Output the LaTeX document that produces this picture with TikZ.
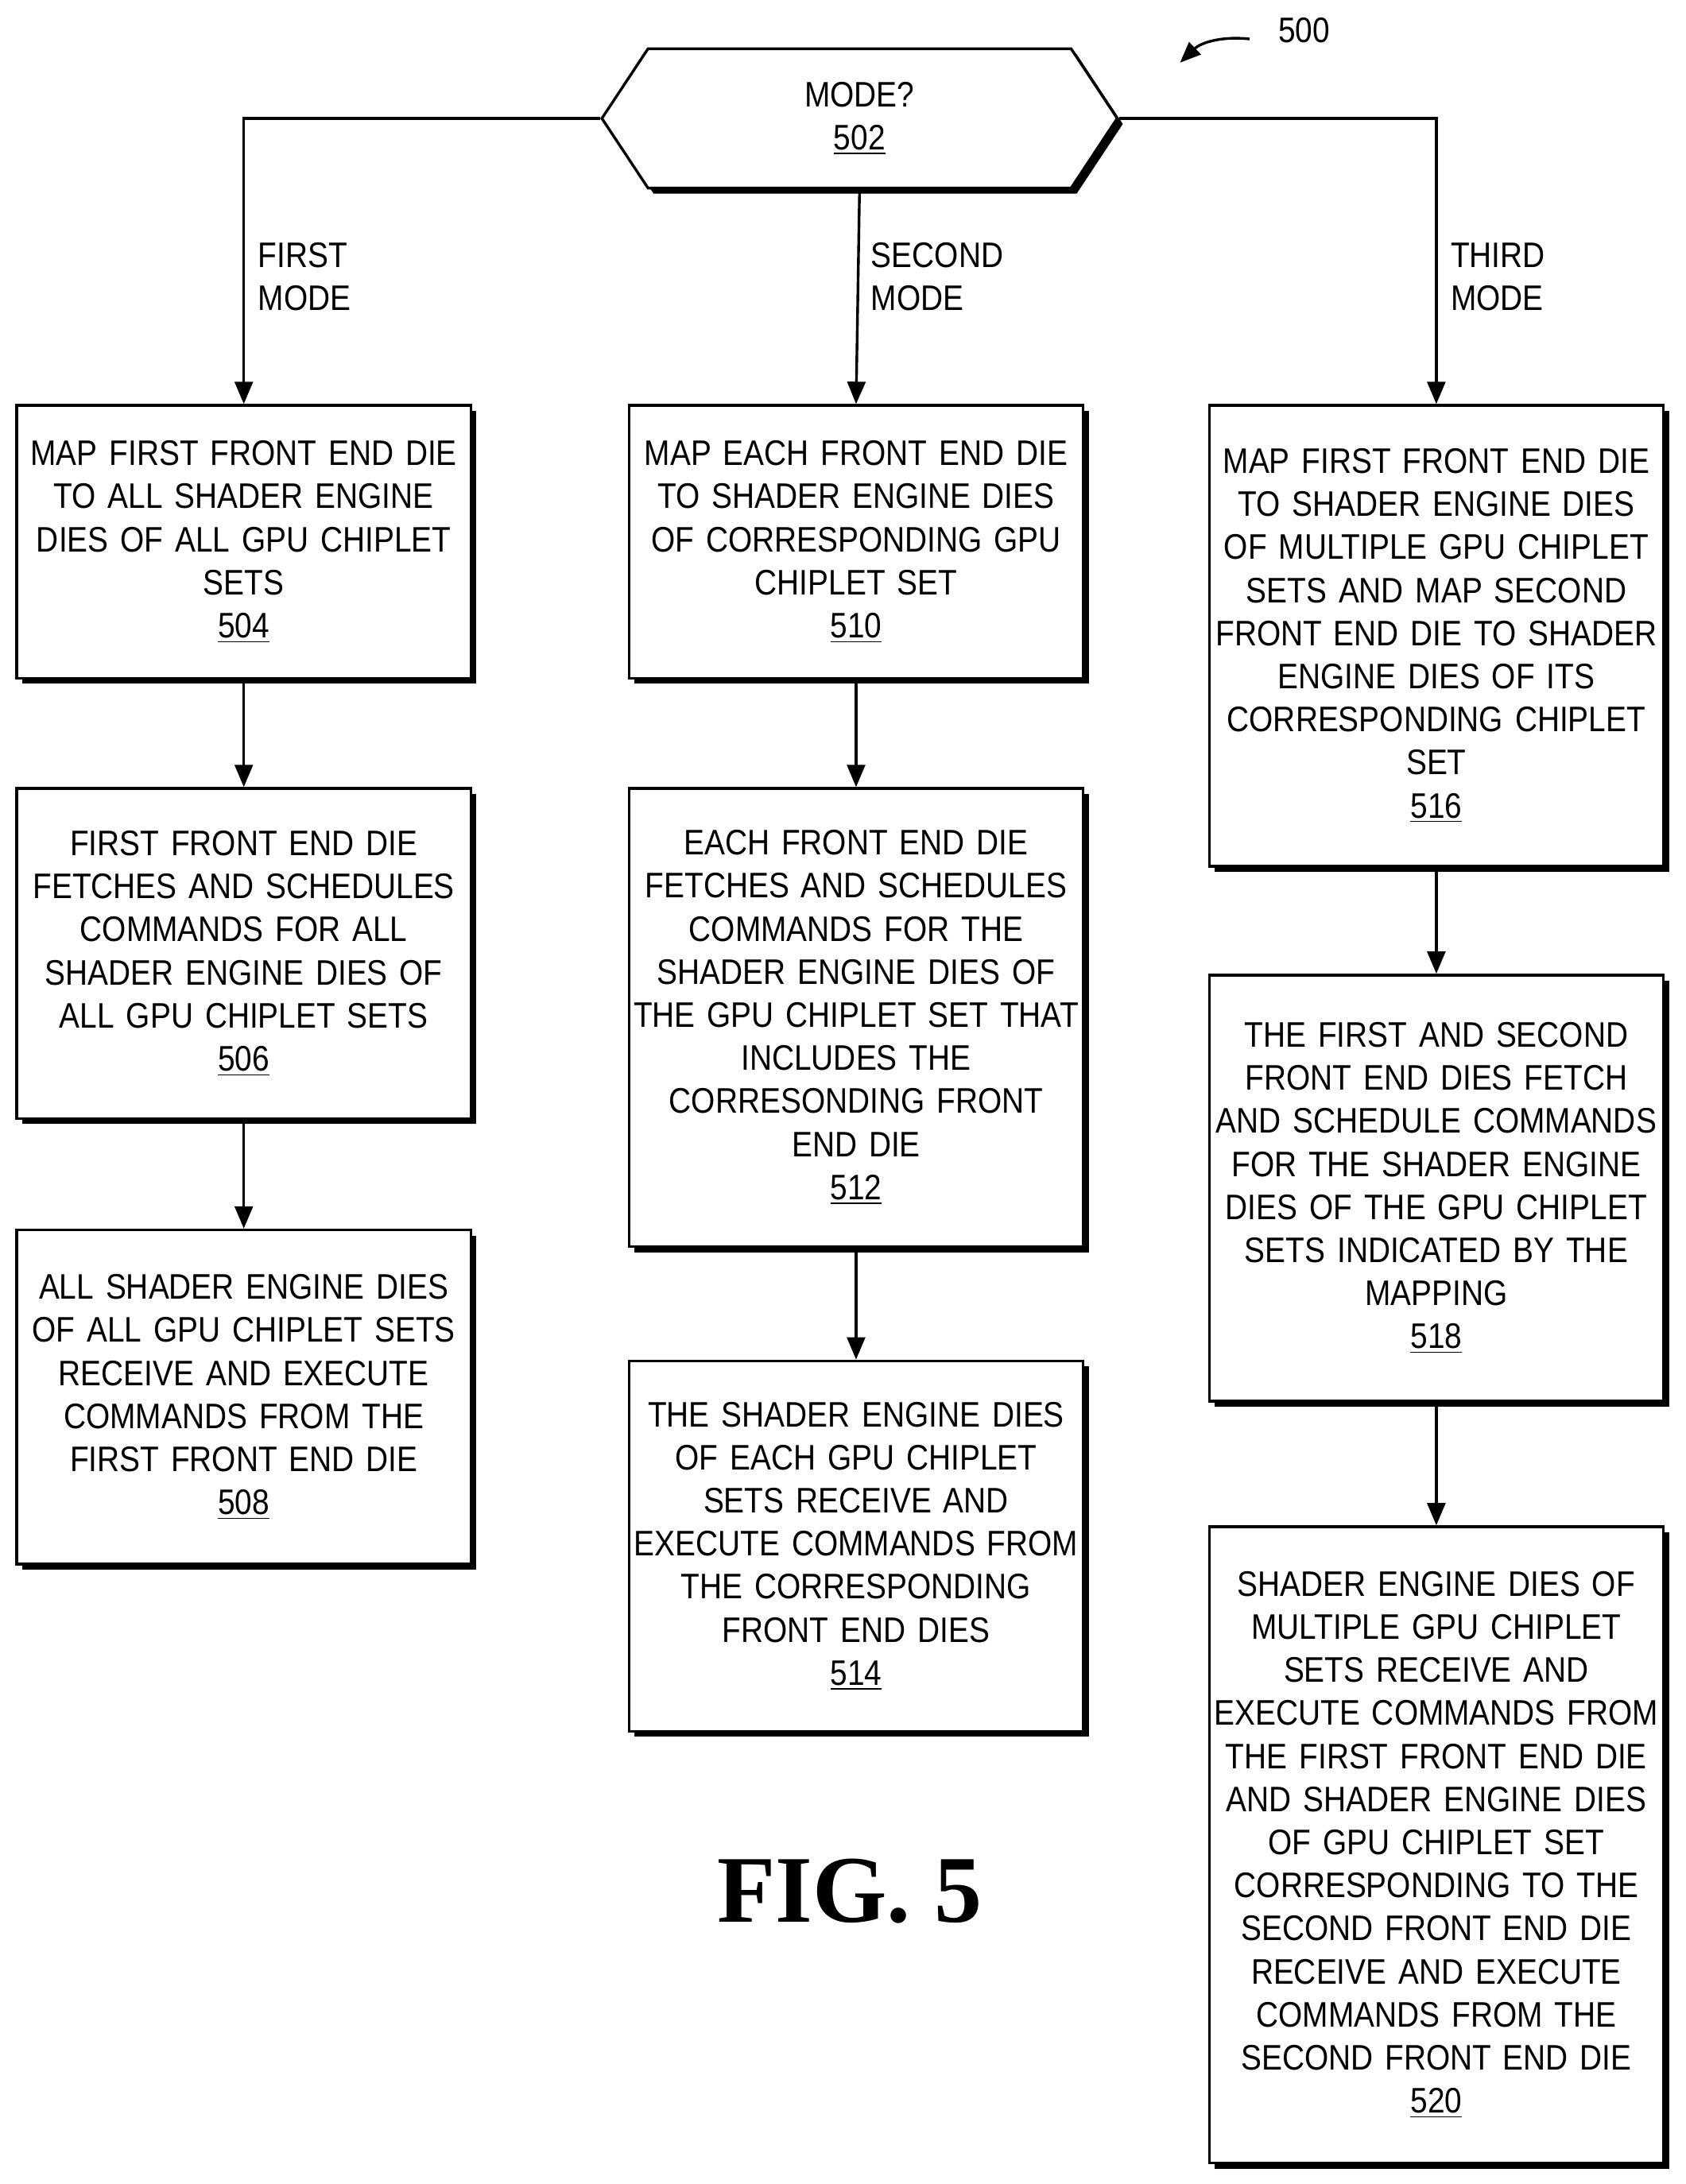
\documentclass[tikz,border=0pt]{standalone}
\usepackage{fontspec}
\setmainfont{Liberation Sans}[FakeStretch=0.87]
\newfontfamily\figfont{Liberation Serif}
\usetikzlibrary{positioning,arrows.meta,shapes.symbols,shadows}

\tikzset{
    procbox/.style={draw, line width=1.1pt, fill=white, align=center,
        minimum width=6.52cm, text width=6.5cm, inner sep=0pt,
        font=\fontsize{14.5}{17.6}\selectfont,
        drop shadow={shadow xshift=0.08cm, shadow yshift=-0.08cm, fill=black, opacity=1}},
    flow/.style={line width=1.1pt, -{Triangle[length=0.32cm, width=0.26cm]}},
    lbl/.style={align=left, anchor=north west, inner sep=0pt, font=\fontsize{14.5}{17.6}\selectfont}
}

\begin{document}
\begin{tikzpicture}[x=0.02cm, y=-0.02cm]
    \useasboundingbox (0,0) rectangle (1210,1568);

    % Decision
    \node[draw, line width=1.1pt, fill=white, signal, signal to=west and east,
        signal pointer angle=113, minimum width=7.4cm, minimum height=2cm,
        font=\fontsize{14.5}{17.6}\selectfont, align=center,
        drop shadow={shadow xshift=0.08cm, shadow yshift=-0.08cm, fill=black, opacity=1}]
        (mode) at (617,85) {MODE?\\\underline{502}};

    % First mode column
    \node[procbox, minimum height=3.92cm] (b504) at (175,389)
        {MAP FIRST FRONT END DIE\\TO ALL SHADER ENGINE\\DIES OF ALL GPU CHIPLET\\SETS\\\underline{504}};
    \node[procbox, minimum height=4.74cm] (b506) at (175,684.5)
        {FIRST FRONT END DIE\\FETCHES AND SCHEDULES\\COMMANDS FOR ALL\\SHADER ENGINE DIES OF\\ALL GPU CHIPLET SETS\\\underline{506}};
    \node[procbox, minimum height=4.8cm] (b508) at (175,1003)
        {ALL SHADER ENGINE DIES\\OF ALL GPU CHIPLET SETS\\RECEIVE AND EXECUTE\\COMMANDS FROM THE\\FIRST FRONT END DIE\\\underline{508}};

    % Second mode column
    \node[procbox, minimum height=3.92cm] (b510) at (614.5,389)
        {MAP EACH FRONT END DIE\\TO SHADER ENGINE DIES\\OF CORRESPONDING GPU\\CHIPLET SET\\\underline{510}};
    \node[procbox, minimum height=6.58cm] (b512) at (614.5,730.5)
        {EACH FRONT END DIE\\FETCHES AND SCHEDULES\\COMMANDS FOR THE\\SHADER ENGINE DIES OF\\THE GPU CHIPLET SET THAT\\INCLUDES THE\\CORRESONDING FRONT\\END DIE\\\underline{512}};
    \node[procbox, minimum height=5.32cm] (b514) at (614.5,1110)
        {THE SHADER ENGINE DIES\\OF EACH GPU CHIPLET\\SETS RECEIVE AND\\EXECUTE COMMANDS FROM\\THE CORRESPONDING\\FRONT END DIES\\\underline{514}};

    % Third mode column
    \node[procbox, minimum height=6.62cm] (b516) at (1031,456.5)
        {MAP FIRST FRONT END DIE\\TO SHADER ENGINE DIES\\OF MULTIPLE GPU CHIPLET\\SETS AND MAP SECOND\\FRONT END DIE TO SHADER\\ENGINE DIES OF ITS\\CORRESPONDING CHIPLET\\SET\\\underline{516}};
    \node[procbox, minimum height=6.12cm] (b518) at (1031,853)
        {THE FIRST AND SECOND\\FRONT END DIES FETCH\\AND SCHEDULE COMMANDS\\FOR THE SHADER ENGINE\\DIES OF THE GPU CHIPLET\\SETS INDICATED BY THE\\MAPPING\\\underline{518}};
    \node[procbox, minimum height=9.14cm] (b520) at (1031,1324.5)
        {SHADER ENGINE DIES OF\\MULTIPLE GPU CHIPLET\\SETS RECEIVE AND\\EXECUTE COMMANDS FROM\\THE FIRST FRONT END DIE\\AND SHADER ENGINE DIES\\OF GPU CHIPLET SET\\CORRESPONDING TO THE\\SECOND FRONT END DIE\\RECEIVE AND EXECUTE\\COMMANDS FROM THE\\SECOND FRONT END DIE\\\underline{520}};

    % Connectors
    \draw[flow] (mode.west) -| (b504.north);
    \draw[flow] (mode.south) -- (b510.north);
    \draw[flow] (mode.east) -| (b516.north);
    \draw[flow] (b504) -- (b506);
    \draw[flow] (b506) -- (b508);
    \draw[flow] (b510) -- (b512);
    \draw[flow] (b512) -- (b514);
    \draw[flow] (b516) -- (b518);
    \draw[flow] (b518) -- (b520);

    % Mode labels
    \node[lbl] (first) at (185,174) {FIRST\\MODE};
    \node[lbl] (second) at (625,174) {SECOND\\MODE};
    \node[lbl] (third) at (1041,174) {THIRD\\MODE};

    % Reference numeral
    \node[font=\fontsize{14.5}{17.6}\selectfont] (ref) at (936,22) {500};
    \coordinate (tip) at (847,45);
    \draw[line width=1.1pt, -{Triangle[length=0.3cm, width=0.24cm]}] (897,28) to[bend right=25] (tip);

    \node[font=\figfont\bfseries\fontsize{39}{44}\selectfont] (fig) at (610,1358) {FIG. 5};
\end{tikzpicture}
\end{document}
